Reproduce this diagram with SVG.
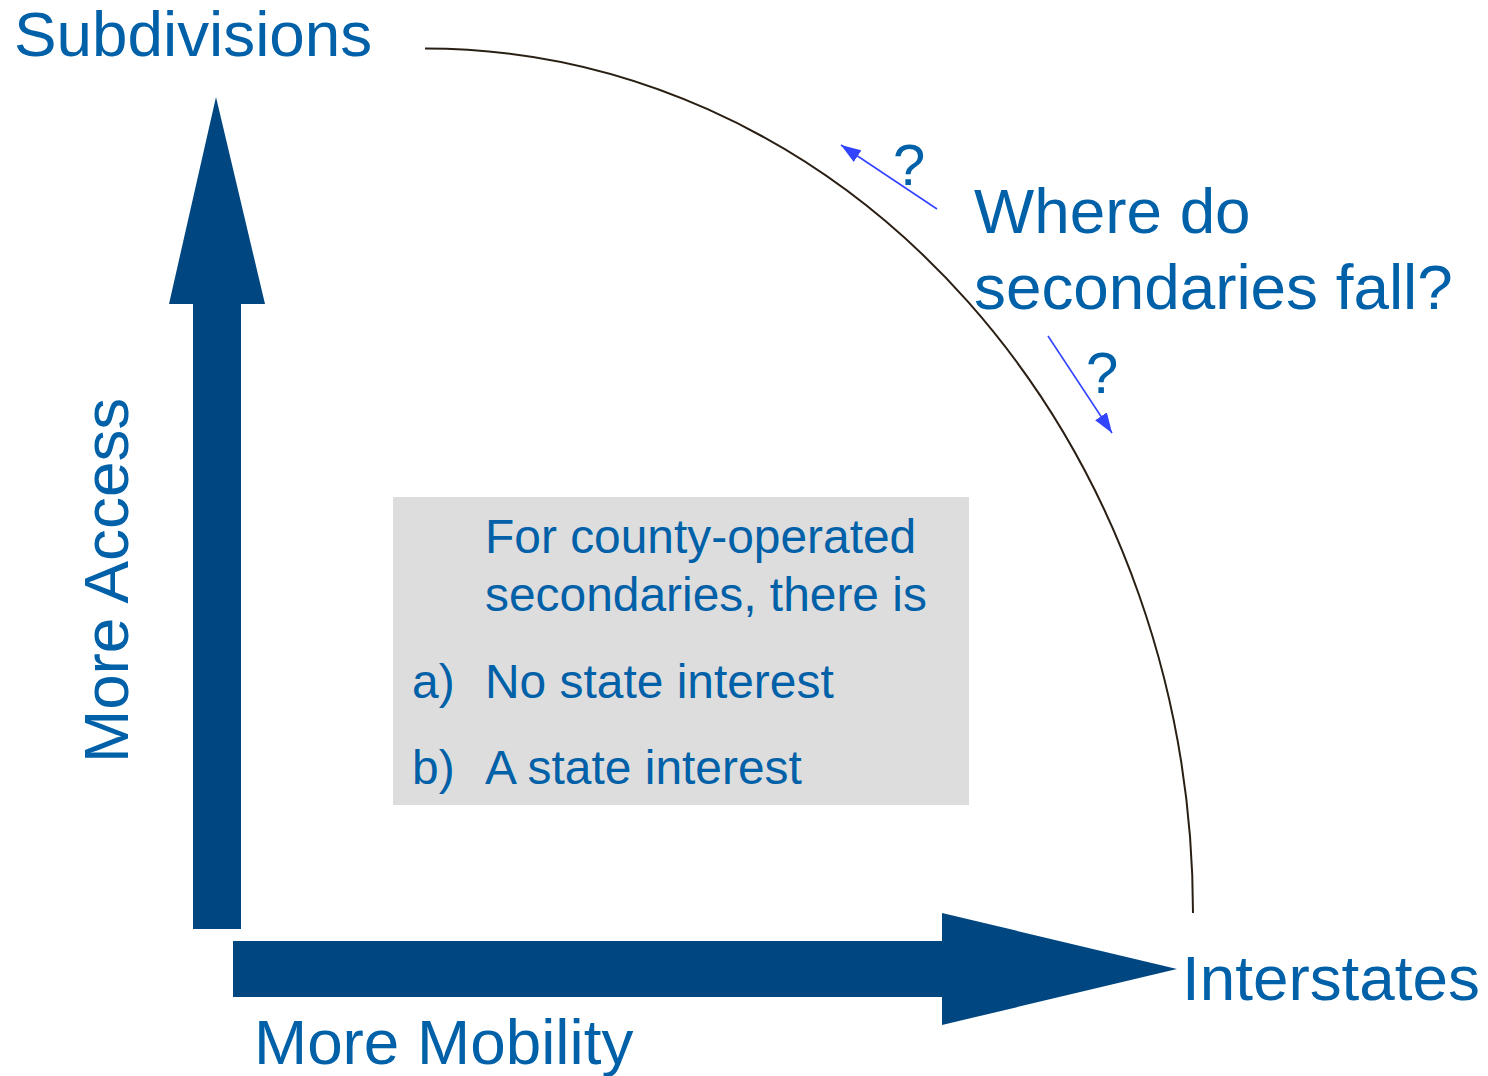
<svg xmlns="http://www.w3.org/2000/svg" width="1488" height="1076" viewBox="0 0 1488 1076">
<style>
.t{font-family:"Liberation Sans",Arial,sans-serif;fill:#0060A8}
.big{font-size:63.8px}
.box{font-size:47.9px}
.axis{fill:#004680}
.hint{stroke:#3344FF;stroke-width:1.6;fill:none}
</style>
<defs>
<marker id="ah" viewBox="0 0 20 14" refX="20" refY="7" markerWidth="20" markerHeight="14" markerUnits="userSpaceOnUse" orient="auto">
<path d="M0,0 L20,7 L0,14 Z" fill="#3344FF"/>
</marker>
</defs>
<rect width="1488" height="1076" fill="#ffffff"/>
<g id="connectors">
<path id="frontier" d="M425,48.5 A768,865 0 0 1 1193,913" fill="none" stroke="#2a1f14" stroke-width="2"/>
<line class="hint" x1="937" y1="209" x2="841" y2="145" marker-end="url(#ah)"/>
<line class="hint" x1="1048" y1="336" x2="1112" y2="433" marker-end="url(#ah)"/>
</g>
<g id="access-arrow">
<polygon class="axis" points="216,97 265,304 241,304 241,929 193,929 193,304 169,304"/>
</g>
<g id="mobility-arrow">
<polygon class="axis" points="233,941 942,941 942,913 1177,969 942,1025 942,997 233,997"/>
</g>
<g id="subdivisions"><text class="t big" x="14" y="56">Subdivisions</text></g>
<g id="interstates"><text class="t big" x="1182" y="1000">Interstates</text></g>
<g id="more-mobility"><text class="t big" x="254" y="1064">More Mobility</text></g>
<g id="more-access"><text class="t big" transform="translate(128,763) rotate(-90)">More Access</text></g>
<g id="question">
<text class="t big" x="974" y="233">Where do</text>
<text class="t big" x="974" y="309">secondaries fall?</text>
</g>
<g id="q1"><text class="t" style="font-size:58px" x="893" y="185">?</text></g>
<g id="q2"><text class="t" style="font-size:58px" x="1086" y="393">?</text></g>
<g id="note">
<rect x="393" y="497" width="576" height="308" fill="#DDDDDD"/>
<text class="t box" x="485" y="553">For county-operated</text>
<text class="t box" x="485" y="611">secondaries, there is</text>
<text class="t box" x="412" y="698">a)</text>
<text class="t box" x="485" y="698">No state interest</text>
<text class="t box" x="412" y="784">b)</text>
<text class="t box" x="485" y="784">A state interest</text>
</g>
</svg>
